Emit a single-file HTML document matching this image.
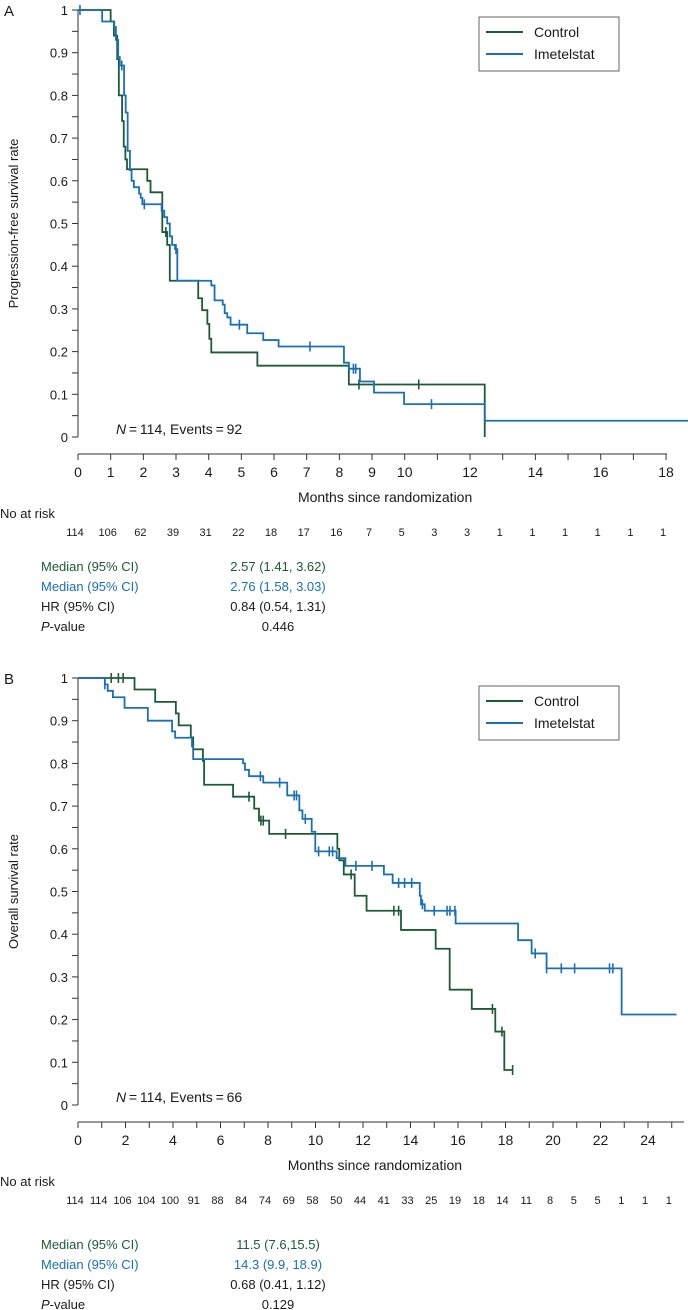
<!DOCTYPE html>
<html><head><meta charset="utf-8">
<style>
body{margin:0;background:#fff;}
svg{display:block;font-family:"Liberation Sans",Arial,sans-serif;}
text{fill:#1a1a1a;}
</style></head>
<body>
<svg id="fig" width="688" height="1310" viewBox="0 0 688 1310"></svg>
<script>
// ---------- Panel A (PFS) data ----------
const pfsCtrlTimes=[0,1.0,1.1,1.2,1.25,1.35,1.4,1.45,1.5,2.12,2.22,2.58,2.73,2.81,3.68,3.80,3.96,4.02,4.08,5.49,8.29,12.45];
const pfsCtrlSurv=[1,0.973,0.94,0.885,0.80,0.74,0.68,0.65,0.627,0.60,0.573,0.48,0.45,0.366,0.325,0.297,0.265,0.23,0.198,0.167,0.123,0];
const pfsCtrlEnd=12.45;
const pfsCtrlCensor=[2.69,8.6,10.43];
const pfsImeTimes=[0,0.74,1.11,1.16,1.23,1.28,1.41,1.46,1.52,1.59,1.64,1.71,1.87,1.92,1.97,2.56,2.64,2.73,2.81,2.88,2.97,3.04,4.08,4.18,4.43,4.49,4.57,4.67,5.18,5.67,6.14,8.14,8.29,8.63,9.06,9.98,12.45];
const pfsImeSurv=[1,0.973,0.96,0.93,0.89,0.87,0.80,0.76,0.67,0.625,0.60,0.585,0.57,0.56,0.545,0.53,0.515,0.50,0.47,0.45,0.44,0.366,0.355,0.32,0.31,0.29,0.28,0.263,0.243,0.227,0.212,0.174,0.16,0.13,0.104,0.077,0.038];
const pfsImeEnd=18.67;
const pfsImeCensor=[0.06,1.34,2.03,3.0,4.94,7.1,8.43,8.5,10.82];
const pfsRisk=[114,106,62,39,31,22,18,17,16,7,5,3,3,1,1,1,1,1,1];
const pfsXLabels=[0,1,2,3,4,5,6,7,8,9,10,12,14,16,18];
// ---------- Panel B (OS) data ----------
const osCtrlTimes=[0,2.38,3.25,4.12,4.24,4.75,4.85,5.26,5.31,6.53,7.42,7.62,8.05,10.92,11.0,11.19,11.65,12.15,13.6,15.06,15.65,16.58,17.57,17.95];
const osCtrlSurv=[1,0.973,0.944,0.917,0.889,0.861,0.833,0.806,0.75,0.722,0.694,0.666,0.635,0.60,0.573,0.54,0.49,0.455,0.41,0.366,0.27,0.225,0.172,0.082];
const osCtrlEnd=18.3;
const osCtrlCensor=[1.4,1.7,1.9,7.2,7.7,7.8,8.74,11.5,13.3,13.5,17.45,17.85,18.3];
const osImeTimes=[0,1.13,1.25,1.47,1.96,2.94,3.96,4.09,4.8,4.85,6.95,7.03,7.2,7.8,8.81,9.32,9.45,9.84,9.99,10.89,11.26,12.88,13.25,14.39,14.44,14.6,15.9,18.53,19.1,19.73,22.89];
const osImeSurv=[1,0.985,0.97,0.955,0.93,0.90,0.875,0.86,0.84,0.81,0.80,0.785,0.77,0.755,0.725,0.69,0.67,0.64,0.594,0.578,0.56,0.54,0.52,0.49,0.47,0.455,0.425,0.386,0.355,0.32,0.212];
const osImeEnd=25.2;
const osImeCensor=[1.13,7.68,8.49,9.1,9.2,9.57,10.13,10.58,10.72,11.7,12.38,13.5,13.75,14.05,14.5,15.0,15.54,15.66,15.87,19.25,19.73,20.35,20.91,22.38,22.52];
const osRisk=[114,114,106,104,100,91,88,84,74,69,58,50,44,41,33,25,19,18,14,11,8,5,5,1,1,1];
const osXLabels=[0,2,4,6,8,10,12,14,16,18,20,22,24];

const GREEN="#1d5a36", BLUE="#1b70b4";
const NS="http://www.w3.org/2000/svg";
const svg=document.getElementById('fig');
function mk(tag,attrs,parent){const e=document.createElementNS(NS,tag);for(const k in attrs)e.setAttribute(k,attrs[k]);(parent||svg).appendChild(e);return e;}
function txt(s,x,y,attrs,parent){const t=mk('text',Object.assign({x:x,y:y,'font-size':13},attrs||{}),parent);t.textContent=s;return t;}

function panel(cfg){
  const g=mk('g',{});
  
  
  const X=m=>cfg.x0+m*cfg.pxPerMonth;
  const Y=v=>cfg.y0-v*(cfg.y0-cfg.y1);
  const L=txt(cfg.letter,4,cfg.y1+6,{'font-size':15},g);
  
  
  const ya=mk('g',{},g);
  
  
  mk('line',{x1:cfg.x0,y1:Y(0),x2:cfg.x0,y2:Y(1),stroke:'#333','stroke-width':1},ya);
  for(let i=0;i<=20;i++){const v=i/20;mk('line',{x1:cfg.x0-6,y1:Y(v),x2:cfg.x0,y2:Y(v),stroke:'#333','stroke-width':1},ya);}
  for(let i=0;i<=10;i++){const v=i/10;txt(i===0?'0':(i===10?'1':(v).toFixed(1)),cfg.x0-10,Y(v)+5,{'text-anchor':'end'},ya);}
  const yt=txt(cfg.ytitle,0,0,{'text-anchor':'middle',transform:`translate(18,${(Y(0)+Y(1))/2}) rotate(-90)`},g);
  
  
  const xa=mk('g',{},g);
  
  
  mk('line',{x1:cfg.x0,y1:cfg.axisY,x2:cfg.axisEnd,y2:cfg.axisY,stroke:'#333','stroke-width':1},xa);
  for(let m=0;X(m)<=cfg.axisEnd+0.5;m++){mk('line',{x1:X(m),y1:cfg.axisY,x2:X(m),y2:cfg.axisY+6,stroke:'#333','stroke-width':1},xa);}
  cfg.xLabels.forEach(m=>txt(String(m),X(m),cfg.axisY+23,{'text-anchor':'middle','font-size':14},xa));
  const xt=txt('Months since randomization',X(cfg.titleMonth),cfg.axisY+48,{'text-anchor':'middle','font-size':14},g);
  
  
  function curve(times,surv,end,cens,color,name){
    let d=`M${X(times[0])},${Y(surv[0])}`;
    for(let i=1;i<times.length;i++){d+=` H${X(times[i])} V${Y(surv[i])}`;}
    d+=` H${X(end)}`;
    const p=mk('path',{d:d,fill:'none',stroke:color,'stroke-width':1.8},g);
    
    
    cens.forEach(t=>{
      let v=surv[0];for(let i=0;i<times.length;i++){if(times[i]<=t)v=surv[i];}
      const c=mk('line',{x1:X(t),y1:Y(v)-5,x2:X(t),y2:Y(v)+5,stroke:color,'stroke-width':1.6},g);
      
      
    });
  }
  curve(cfg.ctrl[0],cfg.ctrl[1],cfg.ctrl[2],cfg.ctrl[3],GREEN,'control');
  curve(cfg.ime[0],cfg.ime[1],cfg.ime[2],cfg.ime[3],BLUE,'imetelstat');
  const n=mk('text',{x:116,y:Y(0)-3,'font-size':14},g);
  
  
  n.innerHTML='<tspan font-style="italic">N</tspan>\u2009=\u2009114, Events\u2009=\u2009'+cfg.events;
  const lg=mk('g',{},g);
  
  
  const ly=cfg.legendY;
  mk('rect',{x:479,y:ly,width:140,height:54,fill:'#fff',stroke:'#666','stroke-width':1},lg);
  mk('line',{x1:486,y1:ly+15,x2:523,y2:ly+15,stroke:GREEN,'stroke-width':2},lg);
  mk('line',{x1:486,y1:ly+37,x2:523,y2:ly+37,stroke:BLUE,'stroke-width':2},lg);
  const l1=txt('Control',534,ly+20,{'font-size':14},lg);
  
  
  const l2=txt('Imetelstat',534,ly+42,{'font-size':14},lg);
  
  
  const rt=mk('g',{},g);
  
  
  txt('No at risk',0,cfg.axisY+64,{'font-size':13},rt);
  cfg.risk.forEach((r,i)=>txt(String(r),X(i)-3,cfg.axisY+82,{'text-anchor':'middle','font-size':11},rt));
  const st=mk('g',{},g);
  
  
  const sy=cfg.statsY;
  txt('Median (95% CI)',41,sy,{style:'fill:'+GREEN},st);
  txt(cfg.stats[0],278,sy,{'text-anchor':'middle',style:'fill:'+GREEN},st);
  txt('Median (95% CI)',41,sy+20,{style:'fill:'+BLUE},st);
  txt(cfg.stats[1],278,sy+20,{'text-anchor':'middle',style:'fill:'+BLUE},st);
  txt('HR (95% CI)',41,sy+40,{},st);
  txt(cfg.stats[2],278,sy+40,{'text-anchor':'middle'},st);
  const pv=mk('text',{x:41,y:sy+60,'font-size':13},st);
  pv.innerHTML='<tspan font-style="italic">P</tspan>-value';
  txt(cfg.stats[3],278,sy+60,{'text-anchor':'middle'},st);
}

panel({name:'panel-a-pfs',letter:'A',x0:78,pxPerMonth:32.67,y0:437,y1:10,axisY:454,axisEnd:667,titleMonth:9.4,
  ytitle:'Progression-free survival rate',xLabels:pfsXLabels,
  ctrl:[pfsCtrlTimes,pfsCtrlSurv,pfsCtrlEnd,pfsCtrlCensor],ime:[pfsImeTimes,pfsImeSurv,pfsImeEnd,pfsImeCensor],
  events:92,legendY:17,risk:pfsRisk,statsY:571,stats:['2.57 (1.41, 3.62)','2.76 (1.58, 3.03)','0.84 (0.54, 1.31)','0.446']});
panel({name:'panel-b-os',letter:'B',x0:78,pxPerMonth:23.75,y0:1105,y1:678,axisY:1122,axisEnd:684,titleMonth:12.5,
  ytitle:'Overall survival rate',xLabels:osXLabels,
  ctrl:[osCtrlTimes,osCtrlSurv,osCtrlEnd,osCtrlCensor],ime:[osImeTimes,osImeSurv,osImeEnd,osImeCensor],
  events:66,legendY:686,risk:osRisk,statsY:1249,stats:['11.5 (7.6,15.5)','14.3 (9.9, 18.9)','0.68 (0.41, 1.12)','0.129']});
</script>
</body></html>
